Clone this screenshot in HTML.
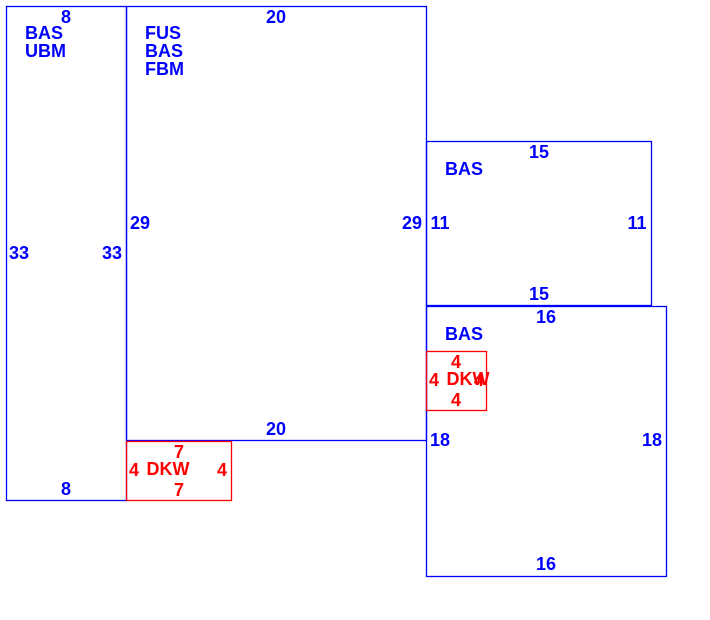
<!DOCTYPE html>
<html><head><meta charset="utf-8"><style>
html,body{margin:0;padding:0;background:#fff;}
svg{display:block;}
text{font-family:"Liberation Sans",Arial,sans-serif;font-weight:bold;font-size:18px;}
.b{fill:#0000ff;}
.r{fill:#ff0000;}
</style></head><body>
<svg width="710" height="620" xmlns="http://www.w3.org/2000/svg">
<g fill="none" stroke="#0000ff" stroke-width="1.3">
<rect x="6.5" y="6.5" width="120" height="494"/>
<rect x="126.5" y="6.5" width="300" height="434"/>
<rect x="426.5" y="141.5" width="225" height="164"/>
<rect x="426.5" y="306.5" width="240" height="270"/>
</g>
<g fill="none" stroke="#ff0000" stroke-width="1.3">
<rect x="126.5" y="441.5" width="105" height="59"/>
<rect x="426.5" y="351.5" width="60" height="59"/>
</g>
<g class="b" text-anchor="middle">
<text x="66" y="23">8</text>
<text x="66" y="495">8</text>
<text x="19" y="259">33</text>
<text x="112" y="259">33</text>
<text x="276" y="23">20</text>
<text x="276" y="435">20</text>
<text x="140" y="229">29</text>
<text x="412" y="229">29</text>
<text x="539" y="158">15</text>
<text x="539" y="300">15</text>
<text x="440" y="229">11</text>
<text x="637" y="229">11</text>
<text x="546" y="323">16</text>
<text x="546" y="570">16</text>
<text x="440" y="446">18</text>
<text x="652" y="446">18</text>
</g>
<g class="b">
<text x="25" y="39">BAS</text>
<text x="25" y="57">UBM</text>
<text x="145" y="39">FUS</text>
<text x="145" y="57">BAS</text>
<text x="145" y="75">FBM</text>
<text x="445" y="175">BAS</text>
<text x="445" y="340">BAS</text>
</g>
<g class="r" text-anchor="middle">
<text x="179" y="458">7</text>
<text x="179" y="496">7</text>
<text x="134" y="476">4</text>
<text x="222" y="476">4</text>
<text x="168" y="475">DKW</text>
<text x="456" y="368">4</text>
<text x="456" y="406">4</text>
<text x="434" y="386">4</text>
<text x="479" y="386">4</text>
<text x="468" y="385">DKW</text>
</g>
</svg>
</body></html>
